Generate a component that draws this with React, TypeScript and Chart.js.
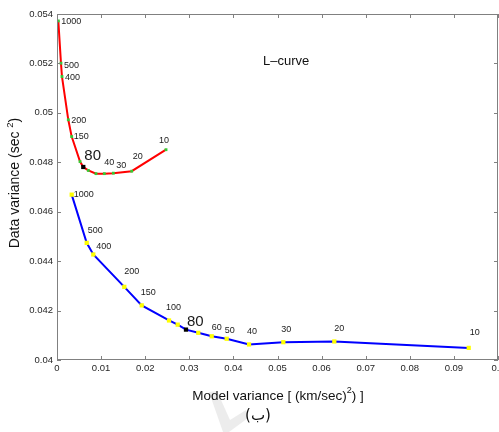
import { useEffect, useRef } from "react";
import { Chart, registerables } from "chart.js";

Chart.register(...registerables);

// ---- data ----
const redLambda = ["1000", "500", "400", "200", "150", "100", "80", "60", "50", "40", "30", "20", "10"];
const redX = [0.0003, 0.0009, 0.00113, 0.00256, 0.00333, 0.00522, 0.00596, 0.0071, 0.00884, 0.01073, 0.01277, 0.01694, 0.02472];
const redY = [0.05372, 0.05201, 0.05147, 0.04972, 0.04904, 0.04803, 0.04781, 0.04767, 0.04754, 0.04754, 0.04756, 0.04764, 0.04851];
const redShown = ["1000", "500", "400", "200", "150", "80", "40", "30", "20", "10"];

const blueLambda = ["1000", "500", "400", "200", "150", "100", "90", "80", "70", "60", "50", "40", "30", "20", "10"];
const blueX = [0.00333, 0.00673, 0.00823, 0.01526, 0.01921, 0.0254, 0.02737, 0.02925, 0.03204, 0.03508, 0.03848, 0.04354, 0.05132, 0.06288, 0.09336];
const blueY = [0.04669, 0.04474, 0.04427, 0.04296, 0.04221, 0.0416, 0.04143, 0.04123, 0.0411, 0.04096, 0.04086, 0.04063, 0.04072, 0.04075, 0.04049];
const blueShown = ["1000", "500", "400", "200", "150", "100", "80", "60", "50", "40", "30", "20", "10"];

const optimum = "80";
const xTickValues = [0, 0.01, 0.02, 0.03, 0.04, 0.05, 0.06, 0.07, 0.08, 0.09, 0.1];
const yTickValues = [0.04, 0.042, 0.044, 0.046, 0.048, 0.05, 0.052, 0.054];

// ---- label styling (pixel offsets from the point) ----
const redOffsets: Record<string, [number, number]> = {
  "1000": [3, 1], "500": [3, 2], "400": [3, 1], "200": [3, 1], "150": [2, 0],
  "80": [1, -11], "40": [0, -11], "30": [3, -8], "20": [1, -15], "10": [-7, -9],
};
const blueOffsets: Record<string, [number, number]> = {
  "1000": [2, 0], "500": [1, -12], "400": [3, -8], "200": [0, -15], "150": [-1, -13],
  "100": [-3, -13], "80": [1, -8], "60": [0, -9], "50": [-2, -8], "40": [-2, -13],
  "30": [-2, -13], "20": [0, -13], "10": [1, -15],
};

const FONT = '"Liberation Sans", Arial, sans-serif';
const AXIS_COLOR = "#808080";

function drawSegments(ctx: CanvasRenderingContext2D, segs: { t: string; s: number; dy: number }[], cx: number, cy: number) {
  let total = 0;
  for (const sg of segs) {
    ctx.font = `${sg.s}px ${FONT}`;
    total += ctx.measureText(sg.t).width;
  }
  let x = cx - total / 2;
  ctx.textAlign = "left";
  ctx.textBaseline = "middle";
  for (const sg of segs) {
    ctx.font = `${sg.s}px ${FONT}`;
    ctx.fillText(sg.t, x, cy + sg.dy);
    x += ctx.measureText(sg.t).width;
  }
}

const watermarkPlugin = {
  id: "watermark",
  beforeDraw(chart: any) {
    const { ctx } = chart;
    ctx.save();
    ctx.fillStyle = "rgba(220,220,220,0.55)";
    ctx.beginPath();
    ctx.moveTo(209, 392);
    ctx.lineTo(217, 391);
    ctx.lineTo(230, 420);
    ctx.lineTo(246, 410);
    ctx.lineTo(248, 418);
    ctx.lineTo(229, 432);
    ctx.lineTo(223, 432);
    ctx.closePath();
    ctx.fill();
    ctx.restore();
  },
};

const decorPlugin = {
  id: "decor",
  afterDatasetsDraw(chart: any) {
    const { ctx, chartArea: a, scales } = chart;
    ctx.save();
    // box
    ctx.strokeStyle = AXIS_COLOR;
    ctx.lineWidth = 1;
    ctx.strokeRect(a.left + 0.5, a.top + 0.5, a.right - a.left - 1, a.bottom - a.top - 1);
    // inward ticks
    const tl = 4;
    ctx.beginPath();
    for (const v of xTickValues) {
      const px = Math.round(scales.x.getPixelForValue(v)) + 0.5;
      ctx.moveTo(px, a.bottom);
      ctx.lineTo(px, a.bottom - tl);
      ctx.moveTo(px, a.top);
      ctx.lineTo(px, a.top + tl);
    }
    for (const v of yTickValues) {
      const py = Math.round(scales.y.getPixelForValue(v)) + 0.5;
      ctx.moveTo(a.left, py);
      ctx.lineTo(a.left + tl, py);
      ctx.moveTo(a.right, py);
      ctx.lineTo(a.right - tl, py);
    }
    ctx.stroke();

    // point labels
    ctx.fillStyle = "#1a1a1a";
    ctx.textAlign = "left";
    ctx.textBaseline = "middle";
    const sets: [number, string[], string[], Record<string, [number, number]>][] = [
      [0, blueLambda, blueShown, blueOffsets],
      [1, redLambda, redShown, redOffsets],
    ];
    for (const [di, lam, shown, offs] of sets) {
      const meta = chart.getDatasetMeta(di);
      meta.data.forEach((el: any, i: number) => {
        const l = lam[i];
        if (!shown.includes(l)) return;
        const [dx, dy] = offs[l] || [2, 0];
        ctx.font = l === optimum ? `15px ${FONT}` : `9px ${FONT}`;
        ctx.fillText(l, el.x + dx, el.y + dy);
      });
    }

    // L-curve caption
    ctx.fillStyle = "#111";
    ctx.font = `13px ${FONT}`;
    ctx.fillText("L\u2013curve", 263, 61);

    // axis titles
    drawSegments(ctx, [
      { t: "Model variance [ (km/sec)", s: 13.5, dy: 0 },
      { t: "2", s: 9, dy: -5 },
      { t: ") ]", s: 13.5, dy: 0 },
    ], 278, 396);

    ctx.save();
    ctx.translate(15, 183);
    ctx.rotate(-Math.PI / 2);
    drawSegments(ctx, [
      { t: "Data variance (sec ", s: 14, dy: 0 },
      { t: "2", s: 9.5, dy: -5 },
      { t: ")", s: 14, dy: 0 },
    ], 0, 0);
    ctx.restore();

    // sub-figure caption
    ctx.fillStyle = "#111";
    ctx.font = `15px "DejaVu Sans", "Noto Sans", sans-serif`;
    ctx.textAlign = "center";
    ctx.textBaseline = "middle";
    ctx.fillText("(\u0628)", 258, 416);
    ctx.restore();
  },
};

export default function App() {
  const ref = useRef<HTMLCanvasElement | null>(null);
  useEffect(() => {
    if (!ref.current) return;
    const bluePts = blueX.map((x, i) => ({ x, y: blueY[i] }));
    const redPts = redX.map((x, i) => ({ x, y: redY[i] }));
    const chart = new Chart(ref.current, {
      type: "scatter",
      data: {
        datasets: [
          {
            data: bluePts,
            showLine: true,
            borderColor: "#0000ff",
            borderWidth: 2,
            pointStyle: "rect",
            pointRadius: 3,
            pointBorderWidth: 0,
            pointBackgroundColor: blueLambda.map((l) => (l === optimum ? "#000000" : "#ffff00")),
          },
          {
            data: redPts,
            showLine: true,
            borderColor: "#ff0000",
            borderWidth: 2,
            pointStyle: "rect",
            pointRadius: redLambda.map((l) => (l === optimum ? 3 : 2)),
            pointBorderWidth: 0,
            pointBackgroundColor: redLambda.map((l) => (l === optimum ? "#000000" : "#33cc33")),
          },
        ] as any,
      },
      options: {
        animation: false,
        responsive: false,
        layout: { autoPadding: false, padding: { top: 14, right: 1, left: 0, bottom: 0 } },
        plugins: { legend: { display: false }, tooltip: { enabled: false } },
        scales: {
          x: {
            type: "linear",
            min: 0,
            max: 0.1,
            afterBuildTicks: (s: any) => {
              s.ticks = xTickValues.map((v) => ({ value: v }));
            },
            afterFit: (s: any) => {
              s.height = 72;
              s.paddingLeft = 0;
              s.paddingRight = 0;
            },
            grid: { display: false, drawTicks: false },
            border: { display: false },
            ticks: {
              padding: 3,
              color: "#262626",
              font: { size: 9.5, family: FONT },
              maxRotation: 0,
              callback: (v: any) => String(Number(Number(v).toFixed(3))),
            },
          },
          y: {
            type: "linear",
            min: 0.04,
            max: 0.054,
            afterBuildTicks: (s: any) => {
              s.ticks = yTickValues.map((v) => ({ value: v }));
            },
            afterFit: (s: any) => {
              s.width = 57;
              s.paddingTop = 0;
              s.paddingBottom = 0;
            },
            grid: { display: false, drawTicks: false },
            border: { display: false },
            ticks: {
              padding: 4,
              color: "#262626",
              font: { size: 9.5, family: FONT },
              callback: (v: any) => String(Number(Number(v).toFixed(4))),
            },
          },
        },
      } as any,
      plugins: [watermarkPlugin, decorPlugin],
    });
    return () => chart.destroy();
  }, []);
  return (
    <div style={{ position: "absolute", left: 0, top: 0, width: 499, height: 432 }}>
      <canvas ref={ref} width={499} height={432} style={{ display: "block" }} />
    </div>
  );
}
